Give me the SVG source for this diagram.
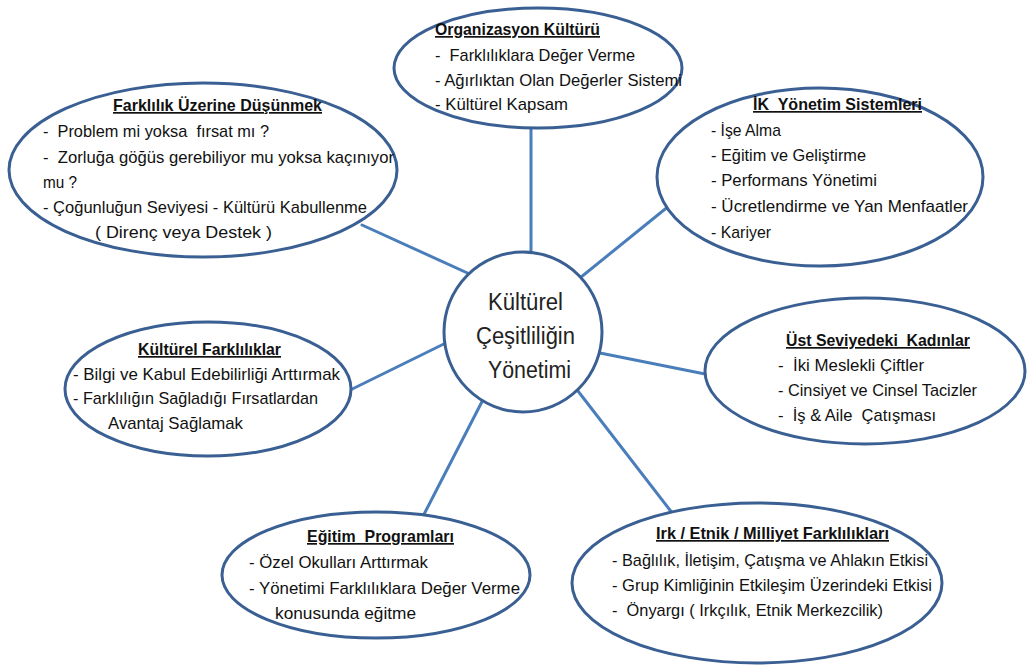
<svg xmlns="http://www.w3.org/2000/svg" width="1029" height="666" viewBox="0 0 1029 666" xml:space="preserve">
<style>
.bg{fill:#ffffff}
.conn line{stroke:#4A7EBB;stroke-width:3;stroke-linecap:round}
.shape{fill:#ffffff;stroke:#3A5F92;stroke-width:3}
text{font-family:"Liberation Sans",Arial,sans-serif;fill:#111111;font-size:17px;white-space:pre}
.t{font-weight:bold;text-decoration:underline}
.c{font-size:23px;fill:#222222}
</style>
<rect class="bg" x="0" y="0" width="1029" height="666"/>
<g id="connectors" class="conn">
<line x1="531" y1="115" x2="531" y2="265"/>
<line x1="362" y1="225" x2="485" y2="281"/>
<line x1="680" y1="197" x2="570" y2="286"/>
<line x1="336" y1="397" x2="458" y2="337"/>
<line x1="590" y1="351" x2="720" y2="377"/>
<line x1="488" y1="390" x2="419" y2="524"/>
<line x1="571" y1="382" x2="673" y2="514"/>
</g>
<g id="center">
<ellipse class="shape" cx="523" cy="332" rx="79" ry="80"/>
<text class="c" x="488" y="310" textLength="75" lengthAdjust="spacingAndGlyphs">Kültürel</text>
<text class="c" x="476" y="344" textLength="99" lengthAdjust="spacingAndGlyphs">Çeşitliliğin</text>
<text class="c" x="488" y="378" textLength="83" lengthAdjust="spacingAndGlyphs">Yönetimi</text>
</g>
<g id="organizasyon">
<ellipse class="shape" cx="538" cy="68" rx="144" ry="60"/>
<text class="t" x="435" y="35" textLength="165" lengthAdjust="spacingAndGlyphs">Organizasyon Kültürü</text>
<text x="435" y="61" textLength="200" lengthAdjust="spacingAndGlyphs">-  Farklılıklara Değer Verme</text>
<text x="435" y="86" textLength="247" lengthAdjust="spacingAndGlyphs">- Ağırlıktan Olan Değerler Sistemi</text>
<text x="435" y="110" textLength="133" lengthAdjust="spacingAndGlyphs">- Kültürel Kapsam</text>
</g>
<g id="farklilik">
<ellipse class="shape" cx="203" cy="170" rx="194" ry="87"/>
<text class="t" x="113" y="111" textLength="209" lengthAdjust="spacingAndGlyphs">Farklılık Üzerine Düşünmek</text>
<text x="43" y="137" textLength="226" lengthAdjust="spacingAndGlyphs">-  Problem mi yoksa  fırsat mı ?</text>
<text x="43" y="163" textLength="351" lengthAdjust="spacingAndGlyphs">-  Zorluğa göğüs gerebiliyor mu yoksa kaçınıyor</text>
<text x="43" y="188" textLength="34" lengthAdjust="spacingAndGlyphs">mu ?</text>
<text x="43" y="213" textLength="324" lengthAdjust="spacingAndGlyphs">- Çoğunluğun Seviyesi - Kültürü Kabullenme</text>
<text x="95" y="238" textLength="177" lengthAdjust="spacingAndGlyphs">( Direnç veya Destek )</text>
</g>
<g id="ik">
<ellipse class="shape" cx="820" cy="177" rx="163" ry="89"/>
<text class="t" x="753" y="110" textLength="169" lengthAdjust="spacingAndGlyphs">İK  Yönetim Sistemleri</text>
<text x="711" y="136" textLength="70" lengthAdjust="spacingAndGlyphs">- İşe Alma</text>
<text x="711" y="161" textLength="155" lengthAdjust="spacingAndGlyphs">- Eğitim ve Geliştirme</text>
<text x="711" y="186" textLength="166" lengthAdjust="spacingAndGlyphs">- Performans Yönetimi</text>
<text x="711" y="212" textLength="257" lengthAdjust="spacingAndGlyphs">- Ücretlendirme ve Yan Menfaatler</text>
<text x="711" y="238" textLength="60" lengthAdjust="spacingAndGlyphs">- Kariyer</text>
</g>
<g id="kulturel-farkliliklar">
<ellipse class="shape" cx="208" cy="389" rx="143" ry="67"/>
<text class="t" x="138" y="355" textLength="143" lengthAdjust="spacingAndGlyphs">Kültürel Farklılıklar</text>
<text x="73" y="380" textLength="267" lengthAdjust="spacingAndGlyphs">- Bilgi ve Kabul Edebilirliği Arttırmak</text>
<text x="73" y="404" textLength="245" lengthAdjust="spacingAndGlyphs">- Farklılığın Sağladığı Fırsatlardan</text>
<text x="108" y="429" textLength="135" lengthAdjust="spacingAndGlyphs">Avantaj Sağlamak</text>
</g>
<g id="ust-seviye">
<ellipse class="shape" cx="865" cy="371" rx="160" ry="73"/>
<text class="t" x="786" y="346" textLength="184" lengthAdjust="spacingAndGlyphs">Üst Seviyedeki  Kadınlar</text>
<text x="778" y="371" textLength="146" lengthAdjust="spacingAndGlyphs">-  İki Meslekli Çiftler</text>
<text x="778" y="396" textLength="199" lengthAdjust="spacingAndGlyphs">- Cinsiyet ve Cinsel Tacizler</text>
<text x="778" y="421" textLength="158" lengthAdjust="spacingAndGlyphs">-  İş &amp; Aile  Çatışması</text>
</g>
<g id="egitim">
<ellipse class="shape" cx="376" cy="575" rx="154" ry="63"/>
<text class="t" x="307" y="542" textLength="147" lengthAdjust="spacingAndGlyphs">Eğitim  Programları</text>
<text x="249" y="568" textLength="179" lengthAdjust="spacingAndGlyphs">- Özel Okulları Arttırmak</text>
<text x="249" y="594" textLength="271" lengthAdjust="spacingAndGlyphs">- Yönetimi Farklılıklara Değer Verme</text>
<text x="275" y="619" textLength="141" lengthAdjust="spacingAndGlyphs">konusunda eğitme</text>
</g>
<g id="irk">
<ellipse class="shape" cx="757" cy="583" rx="185" ry="80"/>
<text class="t" x="656" y="539" textLength="233" lengthAdjust="spacingAndGlyphs">Irk / Etnik / Milliyet Farklılıkları</text>
<text x="612" y="566" textLength="316" lengthAdjust="spacingAndGlyphs">- Bağlılık, İletişim, Çatışma ve Ahlakın Etkisi</text>
<text x="612" y="591" textLength="320" lengthAdjust="spacingAndGlyphs">- Grup Kimliğinin Etkileşim Üzerindeki Etkisi</text>
<text x="612" y="616" textLength="271" lengthAdjust="spacingAndGlyphs">-  Önyargı ( Irkçılık, Etnik Merkezcilik)</text>
</g>
</svg>
